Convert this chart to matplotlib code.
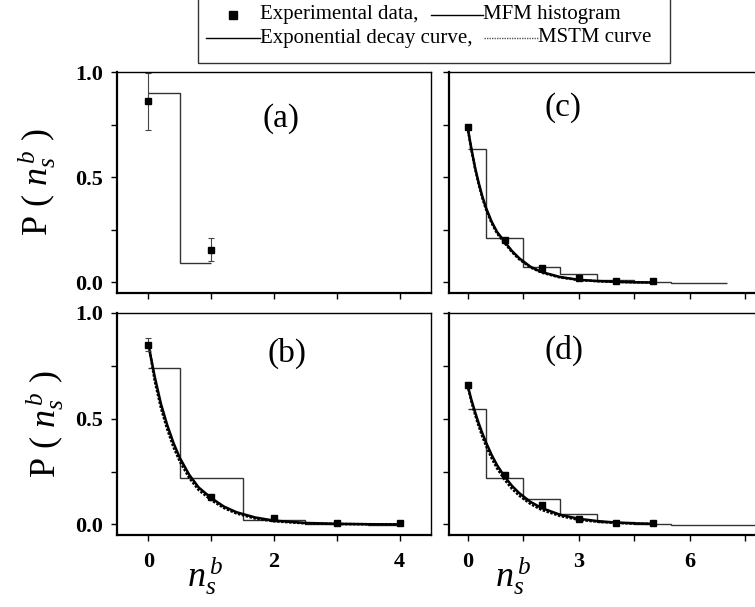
import matplotlib
matplotlib.use("Agg")
import matplotlib.pyplot as plt
from matplotlib.lines import Line2D
from matplotlib.patches import Rectangle

plt.rcParams['font.family'] = ['Liberation Serif', 'DejaVu Serif']
plt.rcParams['mathtext.fontset'] = 'custom'
plt.rcParams['mathtext.rm'] = 'Liberation Serif'
plt.rcParams['mathtext.it'] = 'Liberation Serif:italic'
plt.rcParams['mathtext.bf'] = 'Liberation Serif:bold'

# ---- data ----
# panel (a)
a_x = [0, 1]
a_y = [0.86, 0.155]
a_err = [0.135, 0.055]
a_edges = [0, 0.5, 1.0]
a_hist = [0.90, 0.094]

# panel (b)
b_x = [0, 1, 2, 3, 4]
b_y = [0.85, 0.13, 0.03, 0.006, 0.006]
b_err = [0.03, 0.01, 0.008, 0.004, 0.004]
b_edges = [0, 0.5, 1.5, 2.5, 3.5, 4.0]
b_hist = [0.74, 0.22, 0.022, 0.002, -0.003]

# panel (c)
c_x = [0, 1, 2, 3, 4, 5]
c_y = [0.74, 0.20, 0.068, 0.019, 0.006, 0.008]
c_err = [0.01, 0.01, 0.008, 0.005, 0.004, 0.004]
c_edges = [0, 0.5, 1.5, 2.5, 3.5, 4.5, 5.5, 7.0]
c_hist = [0.632, 0.21, 0.073, 0.04, 0.013, 0.003, -0.003]

# panel (d)
d_x = [0, 1, 2, 3, 4, 5]
d_y = [0.66, 0.236, 0.094, 0.027, 0.008, 0.006]
d_err = [0.015, 0.012, 0.008, 0.005, 0.004, 0.004]
d_edges = [0, 0.5, 1.5, 2.5, 3.5, 4.5, 5.5, 6.5, 7.5, 8.5]
d_hist = [0.548, 0.22, 0.12, 0.051, 0.012, 0.004, -0.001, -0.003, -0.004]

# fitted curves
curve_x = [0, 0.1, 0.2, 0.3, 0.4, 0.5, 0.65, 0.8, 1.0, 1.2, 1.4, 1.7, 2.0, 2.5, 3.0, 3.5, 4.0, 4.5, 5.0]
b_exp = [0.85, 0.70, 0.57, 0.47, 0.385, 0.315, 0.235, 0.175, 0.125, 0.085, 0.058, 0.033, 0.018, 0.007, 0.003, 0.001, 0.0]
b_mstm = [0.86, 0.68, 0.55, 0.45, 0.365, 0.298, 0.22, 0.163, 0.115, 0.078, 0.052, 0.028, 0.015, 0.005, 0.002, 0.001, 0.0]
c_exp = [0.74, 0.64, 0.55, 0.475, 0.41, 0.355, 0.29, 0.24, 0.195, 0.15, 0.115, 0.075, 0.05, 0.026, 0.013, 0.007, 0.003, 0.001, 0.0]
c_mstm = [0.74, 0.635, 0.545, 0.468, 0.402, 0.348, 0.283, 0.233, 0.188, 0.145, 0.11, 0.072, 0.047, 0.024, 0.012, 0.006, 0.003, 0.001, 0.0]
d_exp = [0.66, 0.593, 0.534, 0.48, 0.432, 0.388, 0.33, 0.28, 0.227, 0.183, 0.148, 0.107, 0.078, 0.046, 0.027, 0.016, 0.009, 0.005, 0.003]
d_mstm = [0.66, 0.585, 0.522, 0.466, 0.416, 0.372, 0.314, 0.265, 0.212, 0.169, 0.136, 0.097, 0.069, 0.04, 0.022, 0.013, 0.007, 0.004, 0.002]

W, H = 755, 607
fig = plt.figure(figsize=(W / 100, H / 100), dpi=100)


def px_axes(x0, y0, x1, y1):
    return fig.add_axes([x0 / W, 1 - y1 / H, (x1 - x0) / W, (y1 - y0) / H])


ax_a = px_axes(117, 72, 431, 293)
ax_c = px_axes(449, 72, 763.5, 293)
ax_b = px_axes(117, 313, 431, 535)
ax_d = px_axes(449, 313, 763.5, 535)

hist_col = '#333333'
tick_font = dict(fontsize=16, fontweight='bold')

for ax in (ax_a, ax_b, ax_c, ax_d):
    ax.set_ylim(-0.05, 1.0)
    ax.set_yticks([0, 0.5, 1.0])
    ax.set_yticklabels(['0.0', '0.5', '1.0'], **tick_font)
    ax.set_yticks([0.25, 0.75], minor=True)
    ax.tick_params(which='both', direction='out', length=4, width=1, top=False, right=False)
    ax.tick_params(axis='x', which='both', pad=8)
    ax.tick_params(axis='y', which='both', pad=6)
    for s in ('left', 'bottom'):
        ax.spines[s].set_linewidth(1.6)
    for s in ('top', 'right'):
        ax.spines[s].set_linewidth(1.0)

for ax in (ax_a, ax_b):
    ax.set_xlim(-0.5, 4.5)
    ax.set_xticks([0, 2, 4])
    ax.set_xticklabels(['0', '2', '4'], **tick_font)
    ax.set_xticks([1, 3], minor=True)

for ax in (ax_c, ax_d):
    ax.set_xlim(-0.5, 8.0)
    ax.set_xticks([0, 3, 6])
    ax.set_xticklabels(['0', '3', '6'], **tick_font)
    ax.set_xticks([1.5, 4.5, 7.5], minor=True)
    ax.tick_params(labelleft=False)

ax_a.tick_params(labelbottom=False)
ax_c.tick_params(labelbottom=False)


def draw(ax, x, y, err, edges, hist, ex=None, ms=None):
    ax.stairs(hist, edges, baseline=None, color=hist_col, lw=1.0)
    if ex is not None:
        n = len(ex)
        ax.plot(curve_x[:n], ex, color='black', lw=1.8)
        ax.plot(curve_x[:n], ms, color='black', lw=1.8, ls=(0, (1, 0.6)))
    ax.errorbar(x, y, yerr=err, fmt='none', ecolor='#444444', elinewidth=0.8,
                capsize=2.5, capthick=0.8)
    ax.plot(x, y, 's', color='black', ms=3.8)


draw(ax_a, a_x, a_y, a_err, a_edges, a_hist)
draw(ax_b, b_x, b_y, b_err, b_edges, b_hist, b_exp, b_mstm)
draw(ax_c, c_x, c_y, c_err, c_edges, c_hist, c_exp, c_mstm)
draw(ax_d, d_x, d_y, d_err, d_edges, d_hist, d_exp, d_mstm)

panel_font = dict(fontsize=24, ha='center', va='center')
ax_a.text(0.522, 0.787, '(a)', transform=ax_a.transAxes, **panel_font)
ax_b.text(0.541, 0.82, '(b)', transform=ax_b.transAxes, **panel_font)
ax_c.text(0.364, 0.837, '(c)', transform=ax_c.transAxes, **panel_font)
ax_d.text(0.366, 0.833, '(d)', transform=ax_d.transAxes, **panel_font)

# axis labels
ylab = r'P ( $n_s^{\,b}$ )'
fig.text(15 / W, 1 - 182 / H, ylab, rotation=90, fontsize=26, ha='left', va='center')
fig.text(23 / W, 1 - 424 / H, ylab, rotation=90, fontsize=26, ha='left', va='center')
xlab = r'$n_s^{\,b}$'
fig.text(187 / W, 1 - 576 / H, xlab, fontsize=26, ha='left', va='center')
fig.text(495 / W, 1 - 576 / H, xlab, fontsize=26, ha='left', va='center')

# legend box drawn by hand
fig.add_artist(Rectangle((198 / W, 1 - 63 / H), (670 - 198) / W, 70 / H,
                         transform=fig.transFigure, fill=False, lw=1.0, ec='#333333'))
y1 = 1 - 15 / H
y2 = 1 - 38 / H
leg_font = dict(fontsize=15, va='center', ha='left')
fig.add_artist(Line2D([233 / W], [y1], marker='s', color='black', ms=6, ls='none',
                      transform=fig.transFigure))
fig.text(260 / W, y1, 'Experimental data,', **leg_font)
fig.add_artist(Line2D([431 / W, 483 / W], [y1, y1], color='black', lw=1.0,
                      transform=fig.transFigure))
fig.text(483 / W, y1, 'MFM histogram', **leg_font)
fig.add_artist(Line2D([206 / W, 260 / W], [y2, y2], color='black', lw=1.0,
                      transform=fig.transFigure))
fig.text(260 / W, y2, 'Exponential decay curve,', **leg_font)
fig.add_artist(Line2D([484 / W, 538 / W], [y2, y2], color='#555555', lw=1.0,
                      ls=(0, (1, 0.8)), transform=fig.transFigure))
fig.text(538 / W, y2, 'MSTM curve', **leg_font)

fig.savefig('out.png', dpi=100)
